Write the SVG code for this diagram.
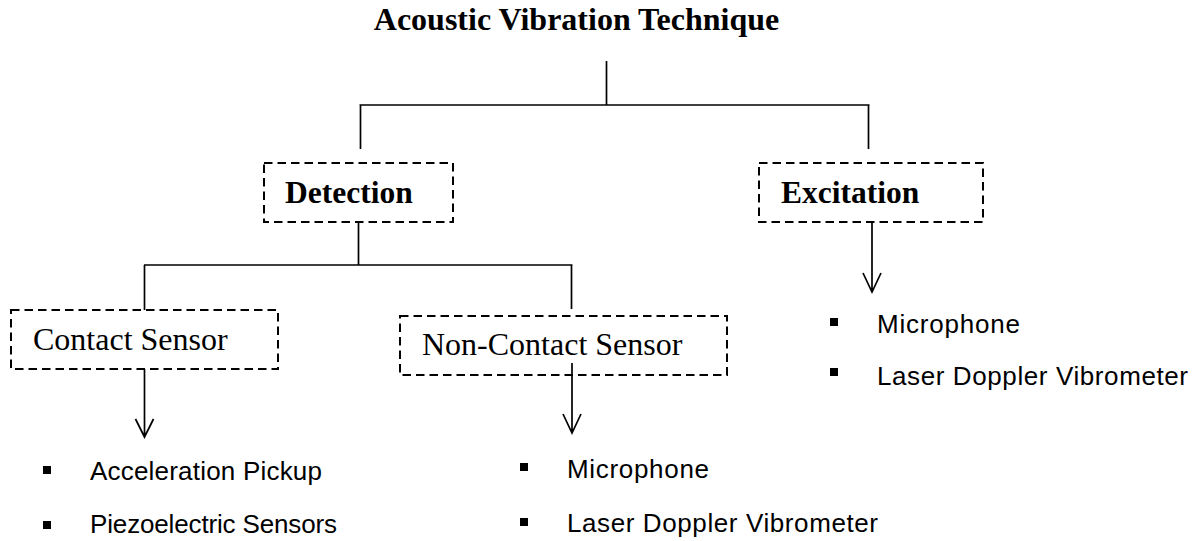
<svg xmlns="http://www.w3.org/2000/svg" width="1196" height="541" viewBox="0 0 1196 541">
<style>
.title{font-family:"Liberation Serif","Times New Roman",serif;font-weight:bold;font-size:32px;fill:#000}
.bold{font-family:"Liberation Serif","Times New Roman",serif;font-weight:bold;font-size:31.5px;fill:#000}
.reg{font-family:"Liberation Serif","Times New Roman",serif;font-size:32px;fill:#000}
.item{font-family:"Liberation Sans",Arial,sans-serif;font-size:26px;fill:#000}
.box{fill:none;stroke:#000;stroke-width:2;stroke-dasharray:8.5 5}
.ln{fill:none;stroke:#000;stroke-width:1.7}
.bul{fill:#000}
</style>
<rect width="1196" height="541" fill="#fff"/>
<text class="title" x="576.5" y="30" text-anchor="middle">Acoustic Vibration Technique</text>
<g id="connectors">
<path class="ln" d="M606.5 61V105M359.5 105H869.5M360.5 105V149M868.5 105V149"/>
<path class="ln" d="M358.5 222V265M144 265H572.5M144.5 265V310M571.5 265V309"/>
<path class="ln" d="M144.5 369V437M135.5 419L144.5 437L153.5 419"/>
<path class="ln" d="M572 363V433M563 414L572 433L581 414"/>
<path class="ln" d="M872 222V292M863 273L872 292L881 273"/>
</g>
<g id="detection">
<rect class="box" x="264" y="163" width="189" height="59"/>
<text class="bold" x="285" y="203">Detection</text>
</g>
<g id="excitation">
<rect class="box" x="759" y="163" width="224" height="59"/>
<text class="bold" x="781" y="203">Excitation</text>
</g>
<g id="contact">
<rect class="box" x="11" y="310" width="267" height="59"/>
<text class="reg" x="33" y="350">Contact Sensor</text>
</g>
<g id="noncontact">
<rect class="box" x="400" y="316" width="327" height="59"/>
<text class="reg" x="422" y="355">Non-Contact Sensor</text>
</g>
<g id="contact-list">
<rect class="bul" x="43" y="466" width="8" height="8"/>
<text class="item" x="90" y="480" textLength="232">Acceleration Pickup</text>
<rect class="bul" x="43" y="521" width="8" height="8"/>
<text class="item" x="90" y="533" textLength="247">Piezoelectric Sensors</text>
</g>
<g id="noncontact-list">
<rect class="bul" x="520" y="463" width="8" height="8"/>
<text class="item" x="567" y="478" textLength="142">Microphone</text>
<rect class="bul" x="520" y="518" width="8" height="8"/>
<text class="item" x="567" y="532" textLength="311">Laser Doppler Vibrometer</text>
</g>
<g id="excitation-list">
<rect class="bul" x="830" y="318" width="8" height="8"/>
<text class="item" x="877" y="333" textLength="143">Microphone</text>
<rect class="bul" x="830" y="368" width="8" height="8"/>
<text class="item" x="877" y="385" textLength="311">Laser Doppler Vibrometer</text>
</g>
</svg>
